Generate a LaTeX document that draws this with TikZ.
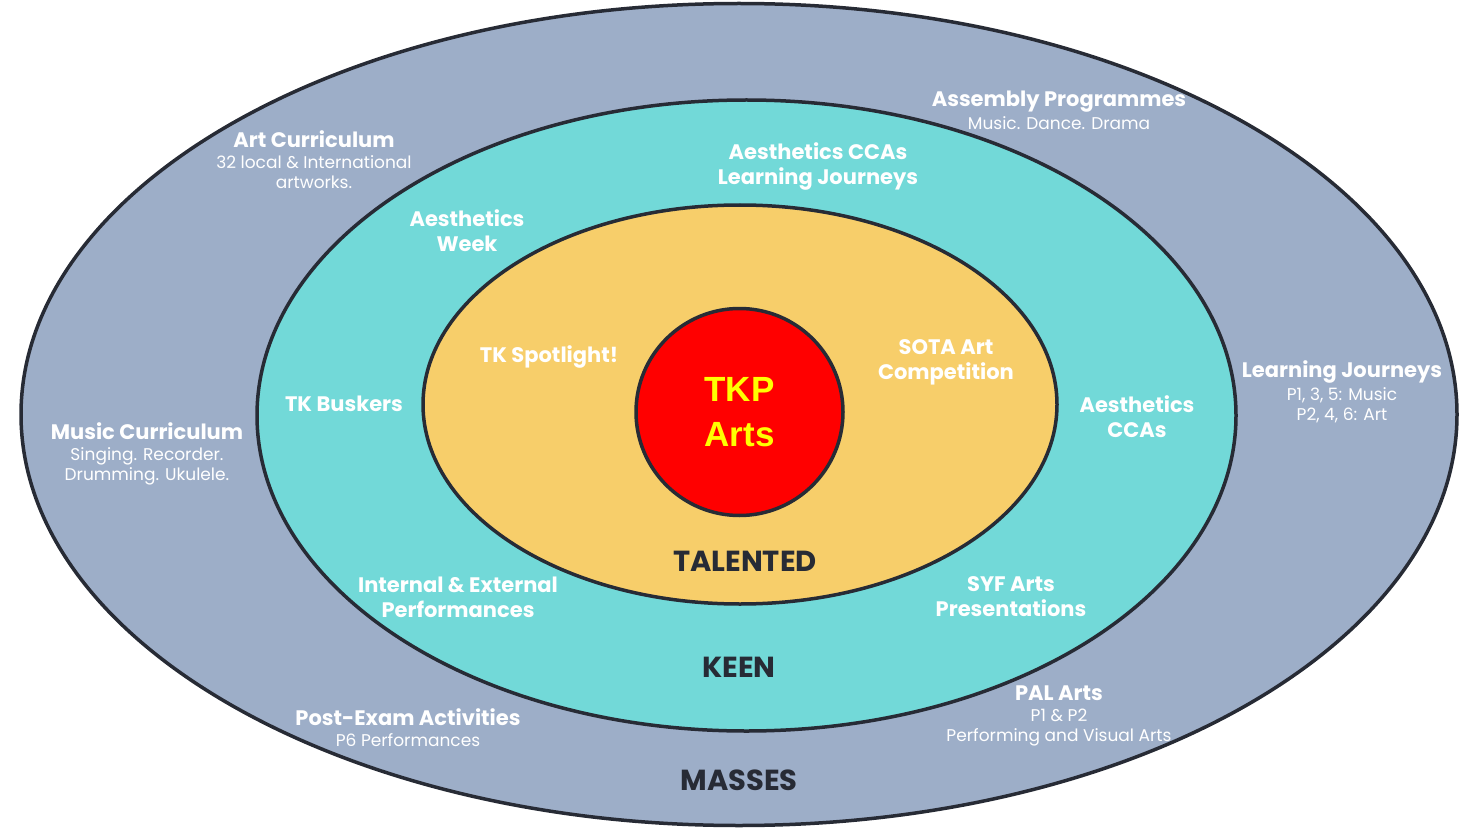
\documentclass[tikz,border=0pt]{standalone}
\usepackage{fontspec}
\setmainfont{Poppins}
\newfontfamily\coref{Liberation Sans}
\usepackage{tikz}
\usetikzlibrary{positioning}
\definecolor{masa}{RGB}{157,174,200}
\definecolor{celeste}{RGB}{114,217,216}
\definecolor{ambar}{RGB}{247,206,106}
\definecolor{rojo}{RGB}{255,0,0}
\definecolor{amarillo}{RGB}{255,255,0}
\definecolor{tinta}{RGB}{39,43,53}
\tikzset{
  anillo/.style={draw=tinta, line width=3.5pt},
  cab/.style={text=white, align=center, font=\fontsize{21}{25}\selectfont\bfseries, inner sep=0pt},
  sub/.style={text=white, align=center, font=\fontsize{17}{20}\selectfont, inner sep=0pt},
  nivel/.style={text=tinta, font=\fontsize{29}{34}\selectfont\bfseries, inner sep=0pt},
}

\begin{document}
\begin{tikzpicture}[x=1pt, y=-1pt]
  \useasboundingbox (0,0) rectangle (1478,829);
  % rings
  \draw[anillo, fill=masa] (739,414.5) ellipse [x radius=718, y radius=411];
  \draw[anillo, fill=celeste] (746.5,415.5) ellipse [x radius=489.5, y radius=315.5];
  \draw[anillo, fill=ambar] (740,404.5) ellipse [x radius=317, y radius=199.5];
  \node[anillo, circle, fill=rojo, minimum size=207pt, inner sep=0pt, align=center,
    text=amarillo, font=\coref\fontsize{35}{45}\selectfont\bfseries] (tkp) at (739.5,412) {TKP\\Arts};

  % masses
  \node[cab] (artc) at (314,139) {Art Curriculum};
  \node[sub] (artcs) at (314,172) {32 local \& International\\artworks.};
  \node[cab] (asmb) at (1059,102) {Assembly Programmes};
  \node[sub] (asmbs) at (1059,123) {Music. Dance. Drama};
  \node[cab] (ljm) at (1342,372) {Learning Journeys};
  \node[sub] (ljms) at (1342,405) {P1, 3, 5: Music\\P2, 4, 6: Art};
  \node[cab] (musc) at (147,431) {Music Curriculum};
  \node[sub] (muscs) at (147,466) {Singing. Recorder.\\Drumming. Ukulele.};
  \node[cab] (pexm) at (408,717) {Post-Exam Activities};
  \node[sub] (pexms) at (408,740) {P6 Performances};
  \node[cab] (pal) at (1059,693) {PAL Arts};
  \node[sub] (pals) at (1059,728) {P1 \& P2\\Performing and Visual Arts};
  \node[nivel] (masses) at (739,780) {MASSES};

  % keen
  \node[cab] (accl) at (818,166.5) {Aesthetics CCAs\\Learning Journeys};
  \node[cab] (aw) at (467,230.5) {Aesthetics\\Week};
  \node[cab] (tkb) at (344,404) {TK Buskers};
  \node[cab] (acca) at (1137,416.5) {Aesthetics\\CCAs};
  \node[cab] (iep) at (458,597) {Internal \& External\\Performances};
  \node[cab] (syf) at (1011,597) {SYF Arts\\Presentations};
  \node[nivel] (keen) at (739,667) {KEEN};

  % talented
  \node[cab] (tks) at (549,357) {TK Spotlight!};
  \node[cab] (sota) at (946,362.5) {SOTA Art\\Competition};
  \node[nivel] (tal) at (745,561) {TALENTED};
\end{tikzpicture}
\end{document}
